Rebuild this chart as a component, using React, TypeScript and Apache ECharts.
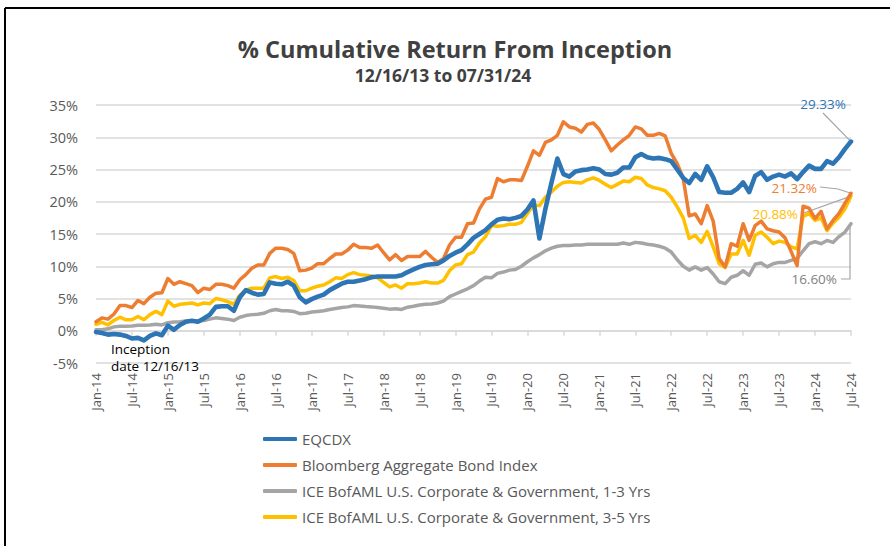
import React, { useEffect, useRef } from "react";
import * as echarts from "echarts";

const years = ["14", "15", "16", "17", "18", "19", "20", "21", "22", "23", "24"];
const monthNames = ["Jan", "Feb", "Mar", "Apr", "May", "Jun", "Jul", "Aug", "Sep", "Oct", "Nov", "Dec"];
const months: string[] = [];
years.forEach((y) => monthNames.forEach((m, mi) => { if (!(y === "24" && mi > 6)) months.push(`${m}-${y}`); }));

const eqcdx = [
  -0.2, -0.35, -0.6, -0.5, -0.6, -0.8, -1.2, -1.1, -1.5, -0.8, -0.4, -0.7,
  0.8, 0.15, 0.9, 1.4, 1.55, 1.4, 1.9, 2.5, 3.7, 3.8, 3.8, 3.1,
  5.2, 6.3, 5.9, 5.6, 5.7, 7.5, 7.3, 7.2, 7.6, 7.0, 5.2, 4.4,
  4.9, 5.3, 5.6, 6.3, 6.8, 7.3, 7.6, 7.6, 7.8, 8.0, 8.3, 8.4,
  8.4, 8.4, 8.4, 8.6, 9.1, 9.5, 9.9, 10.2, 10.3, 10.4, 10.9, 11.6,
  12.1, 12.5, 13.4, 14.4, 15.0, 15.6, 16.5, 17.2, 17.4, 17.3, 17.5, 17.8,
  18.8, 20.2, 14.3, 18.9, 22.9, 26.7, 24.3, 23.9, 24.7, 24.9, 25.0, 25.2,
  25.0, 24.3, 24.2, 24.5, 25.3, 25.3, 26.9, 27.4, 26.9, 26.7, 26.8, 26.6,
  26.3, 25.0, 23.7, 22.9, 24.3, 23.4, 25.5, 23.8, 21.5, 21.4, 21.4, 22.0,
  23.0, 21.5, 24.0, 24.6, 23.4, 23.9, 24.2, 23.9, 24.4, 23.5, 24.6, 25.6,
  25.1, 25.1, 26.3, 25.9, 26.9, 28.2, 29.33,
];
const bloomberg = [
  1.4, 2.0, 1.8, 2.6, 3.9, 3.9, 3.6, 4.7, 4.2, 5.2, 5.8, 5.9,
  8.1, 7.2, 7.6, 7.3, 7.0, 5.9, 6.6, 6.4, 7.2, 7.2, 7.0, 6.6,
  7.9, 8.7, 9.7, 10.2, 10.2, 12.0, 12.8, 12.8, 12.6, 12.0, 9.3, 9.4,
  9.7, 10.4, 10.4, 11.2, 11.9, 11.9, 12.5, 13.4, 12.9, 12.9, 12.8, 13.3,
  12.1, 11.0, 11.8, 10.9, 11.5, 11.5, 11.5, 12.3, 11.4, 10.6, 11.2, 13.3,
  14.5, 14.5, 16.6, 16.7, 18.9, 20.4, 20.7, 23.6, 23.1, 23.4, 23.4, 23.3,
  25.5, 27.9, 27.2, 29.2, 29.6, 30.3, 32.4, 31.6, 31.4, 30.8, 32.0, 32.2,
  31.2, 29.6, 27.9, 28.8, 29.6, 30.3, 31.6, 31.3, 30.3, 30.3, 30.6, 30.2,
  27.5, 25.9, 23.6, 17.8, 18.1, 16.6, 19.4, 17.0, 11.2, 9.9, 13.5, 13.1,
  16.6, 14.0, 16.3, 17.0, 15.8, 15.5, 15.3, 14.4, 12.3, 10.1, 19.3, 19.0,
  17.4, 18.5, 15.8, 17.1, 18.2, 19.8, 21.32,
];
const ice13 = [
  0.15, 0.15, 0.3, 0.6, 0.7, 0.7, 0.75, 0.85, 0.85, 0.9, 1.0, 0.9,
  1.25, 1.35, 1.4, 1.5, 1.55, 1.5, 1.6, 1.8, 2.0, 1.9, 1.8, 1.6,
  2.1, 2.35, 2.5, 2.55, 2.7, 3.1, 3.3, 3.1, 3.1, 3.0, 2.65, 2.7,
  2.9, 3.0, 3.1, 3.3, 3.45, 3.6, 3.7, 3.9, 3.85, 3.75, 3.7, 3.6,
  3.5, 3.35, 3.4, 3.3, 3.65, 3.8, 4.0, 4.1, 4.15, 4.3, 4.6, 5.3,
  5.7, 6.1, 6.5, 7.0, 7.7, 8.3, 8.2, 8.9, 9.1, 9.4, 9.5, 10.0,
  10.7, 11.3, 11.8, 12.4, 12.8, 13.1, 13.2, 13.2, 13.3, 13.3, 13.4, 13.4,
  13.4, 13.4, 13.4, 13.4, 13.6, 13.4, 13.7, 13.6, 13.4, 13.3, 13.1, 12.8,
  12.2, 11.0, 10.0, 9.4, 9.9, 9.4, 9.8, 8.8, 7.6, 7.3, 8.3, 8.6,
  9.3, 8.6, 10.3, 10.5, 9.9, 10.4, 10.6, 10.6, 10.9, 11.2, 12.4, 13.5,
  13.8, 13.5, 14.0, 13.7, 14.6, 15.3, 16.6,
];
const ice35 = [
  1.0, 1.3, 0.9, 1.6, 2.1, 1.7, 1.7, 2.2, 1.7, 2.5, 3.0, 2.5,
  4.6, 3.8, 4.1, 4.2, 4.3, 4.0, 4.3, 4.2, 5.0, 4.8, 4.5, 4.1,
  5.5, 6.3, 6.6, 6.6, 6.6, 8.2, 8.4, 8.1, 8.3, 7.8, 6.2, 6.2,
  6.6, 6.9, 7.1, 7.6, 8.2, 8.1, 8.7, 9.0, 8.7, 8.6, 8.5, 8.2,
  7.5, 6.8, 7.1, 6.6, 7.3, 7.3, 7.4, 7.6, 7.4, 7.4, 7.8, 9.3,
  10.2, 10.4, 11.8, 12.2, 13.6, 14.6, 16.3, 16.2, 16.3, 16.5, 16.5, 16.8,
  18.2, 19.5, 19.4, 20.7, 21.5, 22.4, 23.0, 23.1, 23.0, 22.9, 23.4, 23.7,
  23.3, 22.7, 22.2, 22.7, 23.2, 23.1, 23.8, 23.6, 22.6, 22.2, 22.0, 21.7,
  20.7, 19.2, 17.5, 14.3, 14.8, 13.7, 15.4, 13.0, 10.4, 9.8, 11.9, 11.9,
  14.0, 11.7, 14.8, 15.3, 14.5, 13.5, 13.9, 13.7, 13.0, 12.7, 17.7, 18.2,
  17.1, 17.5, 15.5, 16.7, 17.6, 18.9, 20.88,
];

const seriesNames = [
  "EQCDX",
  "Bloomberg Aggregate Bond Index",
  "ICE BofAML U.S. Corporate & Government, 1-3 Yrs",
  "ICE BofAML U.S. Corporate & Government, 3-5 Yrs",
];
const colors = ["#2E75B6", "#ED7D31", "#A5A5A5", "#FFC000"];
const labelColors = ["#2E75B6", "#ED7D31", "#7F7F7F", "#FFC000"];
const endLabels = ["29.33%", "21.32%", "16.60%", "20.88%"];
const inceptionLines = ["Inception", "date 12/16/13"];
const FONT = "'Open Sans', Lato, sans-serif";

export default function App() {
  const ref = useRef<HTMLDivElement>(null);
  useEffect(() => {
    if (!ref.current) return;
    const chart = echarts.init(ref.current, undefined, { renderer: "svg" });
    const data = [eqcdx, bloomberg, ice13, ice35];
    const widths = [4.6, 3.5, 3.5, 3.5];
    const zs = [6, 5, 3, 4];
    chart.setOption({
      animation: false,
      backgroundColor: "#ffffff",
      textStyle: { fontFamily: FONT },
      grid: { left: 96, right: 39, top: 105, bottom: 183, containLabel: false },
      legend: {
        orient: "vertical",
        left: 258,
        top: 425,
        data: seriesNames,
        icon: "roundRect",
        itemWidth: 34,
        itemHeight: 4,
        itemGap: 8,
        textStyle: { fontFamily: FONT, fontSize: 15, color: "#595959", lineHeight: 18 },
      },
      xAxis: [
        {
          type: "category",
          data: months,
          boundaryGap: false,
          axisLine: { onZero: true, lineStyle: { color: "#D9D9D9", width: 1.5 } },
          axisTick: { show: true, interval: 5, length: 5, lineStyle: { color: "#D9D9D9", width: 1.5 } },
          axisLabel: { show: false },
          splitLine: { show: false },
        },
        {
          type: "category",
          data: months,
          position: "bottom",
          boundaryGap: false,
          axisLine: { show: false, onZero: false },
          axisTick: { show: false },
          axisLabel: { show: true, interval: 5, rotate: 90, margin: 10, fontSize: 13, color: "#595959", fontFamily: FONT },
          splitLine: { show: false },
        },
      ],
      yAxis: {
        type: "value",
        min: -5,
        max: 35,
        interval: 5,
        axisLine: { show: false },
        axisTick: { show: false },
        axisLabel: { formatter: "{value}%", fontSize: 14.5, color: "#595959", margin: 18, fontFamily: FONT },
        splitLine: { lineStyle: { color: "#D9D9D9", width: 1.5 } },
      },
      series: seriesNames.map((name, k) => ({
        name,
        type: "line",
        data: data[k],
        xAxisIndex: 0,
        yAxisIndex: 0,
        showSymbol: false,
        symbol: "none",
        z: zs[k],
        color: colors[k],
        lineStyle: { color: colors[k], width: widths[k], join: "round", cap: "round" },
      })),
    });

    const last = months.length - 1;
    const pt = (k: number) => chart.convertToPixel({ xAxisIndex: 0, yAxisIndex: 0 }, [last, data[k][last]]) as number[];
    const pb = pt(0), po = pt(1), pg = pt(2), py = pt(3);
    const lead = { stroke: "#A6A6A6", lineWidth: 1.2, fill: "none" };
    const lblStyle = (k: number) => ({ fontSize: 13.5, fontFamily: FONT, fill: labelColors[k] });
    const incStyle = { fontSize: 13.5, fontFamily: FONT, fill: "#000000", align: "left", verticalAlign: "middle" };
    chart.setOption({
      graphic: [
        { type: "line", shape: { x1: 5, y1: 8, x2: 890, y2: 8 }, style: { stroke: "#000", lineWidth: 2 } },
        { type: "line", shape: { x1: 5, y1: 8, x2: 5, y2: 546 }, style: { stroke: "#000", lineWidth: 2 } },
        { type: "text", x: 455, y: 49, style: { text: "% Cumulative Return From Inception", fontSize: 23.5, fontWeight: "bold", fontFamily: FONT, fill: "#404040", align: "center", verticalAlign: "middle" } },
        { type: "text", x: 443, y: 75, style: { text: "12/16/13 to 07/31/24", fontSize: 17.5, fontWeight: "bold", fontFamily: FONT, fill: "#404040", align: "center", verticalAlign: "middle" } },
        { type: "text", x: 111, y: 348.5, style: { text: inceptionLines[0], ...incStyle } },
        { type: "text", x: 111, y: 365.5, style: { text: inceptionLines[1], ...incStyle } },
        { type: "polyline", shape: { points: [[823, 113], [pb[0], pb[1]]] }, style: lead },
        { type: "polyline", shape: { points: [[820, 187], [838, 189], [po[0], po[1]]] }, style: lead },
        { type: "polyline", shape: { points: [[801, 214], [py[0], py[1]]] }, style: lead },
        { type: "polyline", shape: { points: [[841, 279], [pg[0] - 1, 279], [pg[0] - 1, pg[1]]] }, style: lead },
        { type: "text", x: 823, y: 104, style: { text: endLabels[0], ...lblStyle(0), align: "center", verticalAlign: "middle" } },
        { type: "text", x: 817, y: 188, style: { text: endLabels[1], ...lblStyle(1), align: "right", verticalAlign: "middle" } },
        { type: "text", x: 798, y: 214, style: { text: endLabels[3], ...lblStyle(3), align: "right", verticalAlign: "middle" } },
        { type: "text", x: 837, y: 279, style: { text: endLabels[2], ...lblStyle(2), align: "right", verticalAlign: "middle" } },
      ],
    });
    return () => chart.dispose();
  }, []);
  return <div ref={ref} style={{ position: "fixed", left: 0, top: 0, width: 890, height: 546 }} />;
}
